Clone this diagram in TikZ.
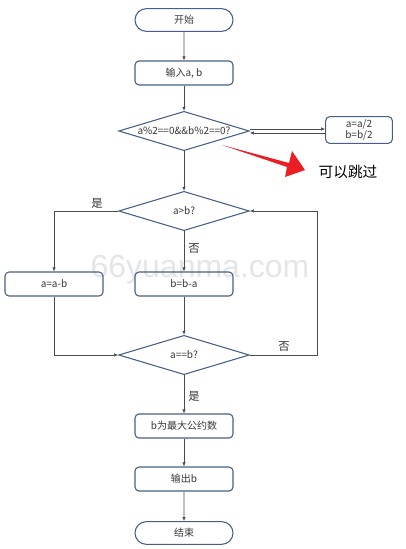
\documentclass[tikz,border=0pt]{standalone}
\usepackage{fontspec}
\newfontfamily\cjk{Noto Sans CJK SC}
\newfontfamily\wmfont{Liberation Sans}
\usepackage{tikz}
\usetikzlibrary{shapes.geometric, shapes.misc, arrows.meta}
\definecolor{boxline}{RGB}{70,95,135}
\definecolor{arrline}{RGB}{75,75,75}
\definecolor{txt}{RGB}{55,55,55}
\definecolor{warnred}{RGB}{235,30,35}

\begin{document}
\begin{tikzpicture}[x=0.75pt,y=0.75pt,yscale=-1,xscale=1,
    every node/.style={font=\cjk\fontsize{7.5}{9}\selectfont, text=txt},
    terminal/.style={rounded rectangle, draw=boxline, thick, minimum width=73.5pt, minimum height=17pt, inner sep=0pt},
    procbox/.style={rectangle, rounded corners=3pt, draw=boxline, thick, minimum width=73.5pt, minimum height=18pt, inner sep=0pt},
    decision/.style={diamond, draw=boxline, thick, minimum width=98pt, minimum height=29.5pt, inner sep=0pt},
    flow/.style={draw=arrline, -{Latex[length=3pt,width=2.5pt]}},
    yesno/.style={font=\cjk\fontsize{8.5}{10}\selectfont, text=black!80}]
        \useasboundingbox (0,0) rectangle (405,549);

        % watermark
        \node[font=\wmfont\fontsize{24}{28}\selectfont, text=black!10] (mark) at (200,270) {66yuanma.com};

        % Shape: nodes of the chart
        \node[terminal] (start) at (184,20) {开始};
        \node[procbox] (input) at (184,73) {输入a, b};
        \node[decision, label={center:a\%2==0\&\&b\%2==0?}] (even) at (184,131) {};
        \node[procbox, minimum width=50pt, minimum height=20pt, align=center, font=\cjk\fontsize{7.5}{8.5}\selectfont] (half) at (359,130) {a=a/2\\b=b/2};
        \node[decision, label={center:a>b?}] (gt) at (184,211) {};
        \node[procbox] (suba) at (54,284) {a=a-b};
        \node[procbox] (subb) at (184,284) {b=b-a};
        \node[decision, label={center:a==b?}] (eq) at (184,355) {};
        \node[procbox] (gcd) at (184,426) {b为最大公约数};
        \node[procbox] (output) at (184,479) {输出b};
        \node[terminal] (stop) at (184,533) {结束};
        \coordinate (loop) at (317,211);

        % Connectors
        \draw[flow] (start) -- (input);
        \draw[flow] (input) -- (even);
        \draw[flow] ([yshift=-1.5pt]even.east) -- ([yshift=-1.5pt]even.east -| half.west);
        \draw[flow] ([yshift=1.5pt]even.east -| half.west) -- ([yshift=1.5pt]even.east);
        \draw[flow] (even) -- (gt);
        \draw[flow] (gt.west) -| (suba.north);
        \draw[flow] (gt.south) -- (subb.north);
        \draw[flow] (suba.south) |- (eq.west);
        \draw[flow] (subb.south) -- (eq.north);
        \draw[flow] (eq.east) -| (loop) -- (gt.east);
        \draw[flow] (eq.south) -- (gcd.north);
        \draw[flow] (gcd) -- (output);
        \draw[flow] (output) -- (stop);

        % Text Node
        \node[yesno] (yes1) at (97,203) {是};
        \node[yesno] (no1) at (194,249) {否};
        \node[yesno] (no2) at (284,347) {否};
        \node[yesno] (yes2) at (194,396) {是};

        % Shape: red note arrow
        \fill[warnred] (222,145) -- (289,163) -- (292,151) -- (305,170) -- (285,177) -- (287,167) -- cycle;
        % Text Node
        \node[font=\cjk\fontsize{11}{13}\selectfont, text=black] (note) at (348,172) {可以跳过};

\end{tikzpicture}
\end{document}
